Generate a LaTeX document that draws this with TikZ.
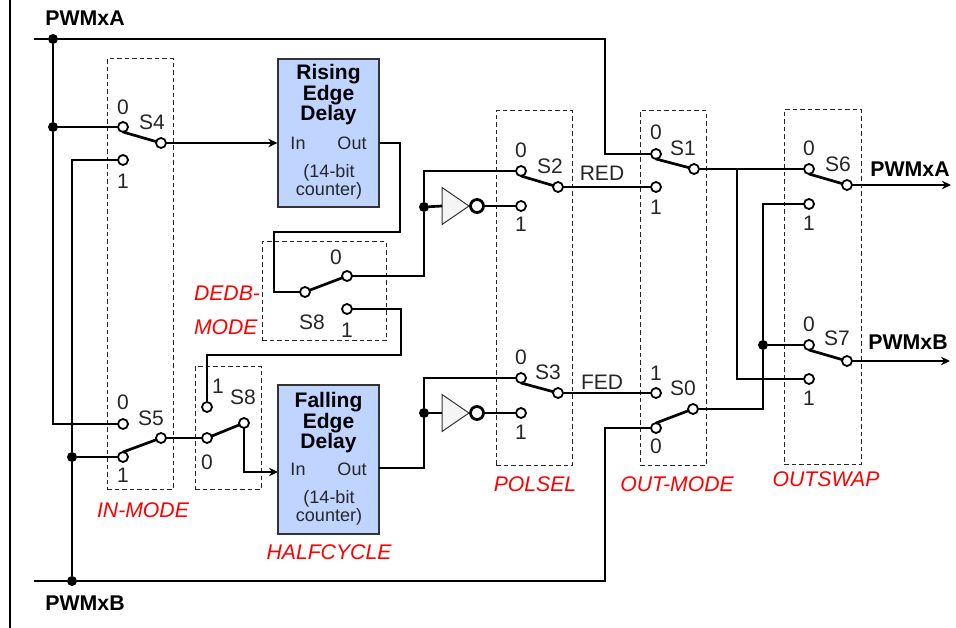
\documentclass[tikz,border=0pt]{standalone}
\usepackage{fontspec}
\setmainfont{Liberation Sans}
\usepackage{xcolor}
\usetikzlibrary{arrows.meta,positioning,shapes.geometric}
\definecolor{blockblue}{HTML}{BFD4FF}
\definecolor{modered}{HTML}{FF0000}

\begin{document}
\begin{tikzpicture}[
    x=1pt, y=-1pt,
    >=Stealth,
    wire/.style={draw, line width=2.7pt},
    sig/.style={draw, line width=2.2pt, -{Stealth[length=9pt,width=8.5pt]}},
    arm/.style={draw, line width=2.7pt},
    term/.style={circle, draw, fill=white, line width=1.8pt, minimum size=10pt, inner sep=0pt, outer sep=0pt},
    dotj/.style={circle, fill=black, minimum size=10pt, inner sep=0pt, outer sep=0pt},
    lab/.style={inner sep=0pt, outer sep=0pt, font=\fontsize{21}{21}\selectfont, text=black!85},
    boldlab/.style={lab, text=black, font=\fontsize{21.3}{21}\selectfont\bfseries},
    modelab/.style={lab, text=modered, font=\fontsize{21.2}{21}\selectfont\itshape},
    block/.style={draw=black!80, fill=blockblue, line width=1.3pt, minimum width=101pt, inner sep=0pt},
    blocktitle/.style={inner sep=0pt, align=center, font=\fontsize{21}{20.5}\selectfont\bfseries},
    blocktext/.style={inner sep=0pt, align=center, font=\fontsize{18}{18}\selectfont, text=black!85},
    modebox/.style={draw=black!85, line width=1pt, dash pattern=on 4.5pt off 3pt, inner sep=0pt},
    gate/.style={isosceles triangle, isosceles triangle stretches, draw=black!80, fill=black!4, line width=1pt,
        minimum height=27pt, minimum width=37pt, inner sep=0pt, outer sep=0pt, anchor=lower side},
    bubble/.style={circle, draw, fill=white, line width=2.8pt, minimum size=13pt, inner sep=0pt, outer sep=0pt},
]
\useasboundingbox (0,0) rectangle (956,628);

% Dashed mode boxes
\node[modebox, minimum width=66pt, minimum height=430pt] (inbox) at (140,274) {};
\node[modebox, minimum width=124pt, minimum height=99pt] (dedbbox) at (324,291.5) {};
\node[modebox, minimum width=66pt, minimum height=123pt] (halfbox) at (228,427.5) {};
\node[modebox, minimum width=76pt, minimum height=354pt] (polbox) at (534,288) {};
\node[modebox, minimum width=66pt, minimum height=354pt] (outbox) at (673,288) {};
\node[modebox, minimum width=77pt, minimum height=354pt] (swapbox) at (822.5,287) {};

% Delay blocks
\node[block, minimum height=148pt] (rise) at (328.5,133) {};
\node[block, minimum height=149pt] (fall) at (328.5,459.5) {};
\node[blocktitle, below=6pt of rise.north] (risetitle) {Rising\\Edge\\Delay};
\node[blocktitle, below=8pt of fall.north] (falltitle) {Falling\\Edge\\Delay};
\node[blocktext] (risein) at (298,143) {In};
\node[blocktext] (riseout) at (352,143) {Out};
\node[blocktext] (risecnt) at (329,182) {(14-bit\\counter)};
\node[blocktext] (fallin) at (298,469) {In};
\node[blocktext] (fallout) at (352,469) {Out};
\node[blocktext] (fallcnt) at (329,508) {(14-bit\\counter)};

% Switch terminals
\node[term] (s4a) at (123,127) {};
\node[term] (s4b) at (123,160) {};
\node[term] (s4o) at (161,143) {};
\node[term] (s5a) at (123,424) {};
\node[term] (s5b) at (123,457) {};
\node[term] (s5o) at (161,438) {};
\node[term] (s8ui) at (305,292) {};
\node[term] (s8ua) at (347,276) {};
\node[term] (s8ub) at (347,309) {};
\node[term] (s8la) at (207,407) {};
\node[term] (s8lb) at (207,438) {};
\node[term] (s8lo) at (244,423) {};
\node[term] (s2a) at (521,171) {};
\node[term] (s2b) at (521,206) {};
\node[term] (s2o) at (558,187) {};
\node[term] (s3a) at (521,378) {};
\node[term] (s3b) at (521,413) {};
\node[term] (s3o) at (558,393) {};
\node[term] (s1a) at (656,154) {};
\node[term] (s1b) at (656,187) {};
\node[term] (s1o) at (694,169) {};
\node[term] (s0a) at (656,393) {};
\node[term] (s0b) at (656,428) {};
\node[term] (s0o) at (693,409) {};
\node[term] (s6a) at (809,169) {};
\node[term] (s6b) at (809,204) {};
\node[term] (s6o) at (847,185) {};
\node[term] (s7a) at (809,345) {};
\node[term] (s7b) at (809,379) {};
\node[term] (s7o) at (847,361) {};

% Junctions
\node[dotj] (dotA) at (53,39) {};
\node[dotj] (dotAm) at (53,127) {};
\node[dotj] (dotB) at (72,581) {};
\node[dotj] (dotBm) at (72,457) {};
\node[dotj] (dotu) at (424,207) {};
\node[dotj] (dotl) at (424,413) {};
\node[dotj] (dotr) at (763,345) {};

% Inverters
\node[gate] (invu) at (442,206) {};
\node[bubble] (bubu) at (477,206) {};
\node[gate] (invl) at (442,413) {};
\node[bubble] (bubl) at (477,413) {};

% Free ends and corners
\coordinate (frameT) at (10,0);
\coordinate (frameB) at (10,628);
\coordinate (busA) at (34,39);
\coordinate (busAc) at (605,39);
\coordinate (busB) at (34,581);
\coordinate (busBc) at (605,581);
\coordinate (riseOutc) at (400,232);
\coordinate (riseOutd) at (274,232);
\coordinate (loopc) at (401,355);
\coordinate (fallInp) at (278,472);
\coordinate (fallOutp) at (379,468);
\coordinate (tap) at (737,169);
\coordinate (outA) at (951,185);
\coordinate (outB) at (950,361);

% Left frame line and input buses
\draw[line width=2pt] (frameT) -- (frameB);
\draw[wire] (busA) -- (dotA) -- (busAc) |- (s1a);
\draw[wire] (dotA) -- (dotAm);
\draw[wire] (dotAm) |- (s5a);
\draw[wire] (dotAm) -- (s4a);
\draw[wire] (busB) -- (dotB) -- (busBc) |- (s0b);
\draw[wire] (s4b) -| (dotBm);
\draw[wire] (dotBm) -- (dotB);
\draw[wire] (dotBm) -- (s5b);

% Switch arms
\draw[arm] (s4a.south) -- (s4o);
\draw[arm] (s5b.north) -- (s5o);
\draw[arm] (s8ui) -- (s8ua);
\draw[arm] (s8lb) -- (s8lo);
\draw[arm] (s2a.south) -- (s2o);
\draw[arm] (s3a.south) -- (s3o);
\draw[arm] (s1a.south) -- (s1o);
\draw[arm] (s0b.north) -- (s0o);
\draw[arm] (s6a.south) -- (s6o);
\draw[arm] (s7a.south) -- (s7o);

% Signal paths
\draw[sig] (s4o) -- (s4o -| rise.west);
\draw[wire] (s4o -| rise.east) -| (riseOutc) -- (riseOutd) |- (s8ui);
\draw[wire] (s8ua) -| (dotu);
\draw[wire] (dotu) |- (s2a);
\draw[wire] (dotu) -- (invu.lower side);
\draw[wire] (bubu) -- (s2b);
\draw[wire] (s8ub) -| (loopc) -| (s8la);
\draw[wire] (s5o) -- (s8lb);
\draw[sig] (s8lo) |- (fallInp);
\draw[wire] (fallOutp) -| (dotl);
\draw[wire] (dotl) |- (s3a);
\draw[wire] (dotl) -- (invl.lower side);
\draw[wire] (bubl) -- (s3b);
\draw[wire] (s2o) -- (s1b);
\draw[wire] (s3o) -- (s0a);
\draw[wire] (s1o) -- (s6a);
\draw[wire] (tap) |- (s7b);
\draw[wire] (s0o) -| (dotr);
\draw[wire] (dotr) |- (s6b);
\draw[wire] (dotr) -- (s7a);
\draw[sig] (s6o) -- (outA);
\draw[sig] (s7o) -- (outB);

% Terminal digits
\node[lab, above=7pt of s4a] (d4a) {0};
\node[lab, below=9pt of s4b] (d4b) {1};
\node[lab, above=9pt of s5a] (d5a) {0};
\node[lab, below=6pt of s5b] (d5b) {1};
\node[lab, above=6pt of s8ua, xshift=-11pt] (d8ua) {0};
\node[lab, below=9pt of s8ub] (d8ub) {1};
\node[lab, above=8.5pt of s8la, xshift=11pt] (d8la) {1};
\node[lab, below=11.5pt of s8lb] (d8lb) {0};
\node[lab, above=8pt of s2a] (d2a) {0};
\node[lab, below=6pt of s2b] (d2b) {1};
\node[lab, above=8pt of s3a] (d3a) {0};
\node[lab, below=7pt of s3b] (d3b) {1};
\node[lab, above=9pt of s1a] (d1a) {0};
\node[lab, below=8pt of s1b] (d1b) {1};
\node[lab, above=8pt of s0a] (d0a) {1};
\node[lab, below=6pt of s0b] (d0b) {0};
\node[lab, above=8pt of s6a] (d6a) {0};
\node[lab, below=7pt of s6b] (d6b) {1};
\node[lab, above=8pt of s7a] (d7a) {0};
\node[lab, below=7pt of s7b] (d7b) {1};

% Switch names
\node[lab] (n4) at (152,122) {S4};
\node[lab] (n5) at (151,418) {S5};
\node[lab] (n8u) at (312,322) {S8};
\node[lab] (n8l) at (243,397) {S8};
\node[lab] (n2) at (550,166) {S2};
\node[lab] (n3) at (548,372) {S3};
\node[lab] (n1) at (683,148) {S1};
\node[lab] (n0) at (683,388) {S0};
\node[lab] (n6) at (838,164) {S6};
\node[lab] (n7) at (837,338) {S7};
\node[lab] (redlab) at (602,173) {RED};
\node[lab] (fedlab) at (602,382) {FED};

% Port names
\node[boldlab] (pwmAin) at (85,18) {PWMxA};
\node[boldlab] (pwmBin) at (85,603) {PWMxB};
\node[boldlab] (pwmAout) at (910,169) {PWMxA};
\node[boldlab] (pwmBout) at (908,342) {PWMxB};

% Mode names
\node[modelab] (inmode) at (143,510) {IN-MODE};
\node[modelab, anchor=west] (dedb) at (194,293) {DEDB-};
\node[modelab, anchor=west] (mode) at (194,327) {MODE};
\node[modelab] (halfc) at (329,552) {HALFCYCLE};
\node[modelab] (polsel) at (535,484) {POLSEL};
\node[modelab] (outmode) at (677,484) {OUT-MODE};
\node[modelab] (outswap) at (826,479) {OUTSWAP};

\end{tikzpicture}
\end{document}
